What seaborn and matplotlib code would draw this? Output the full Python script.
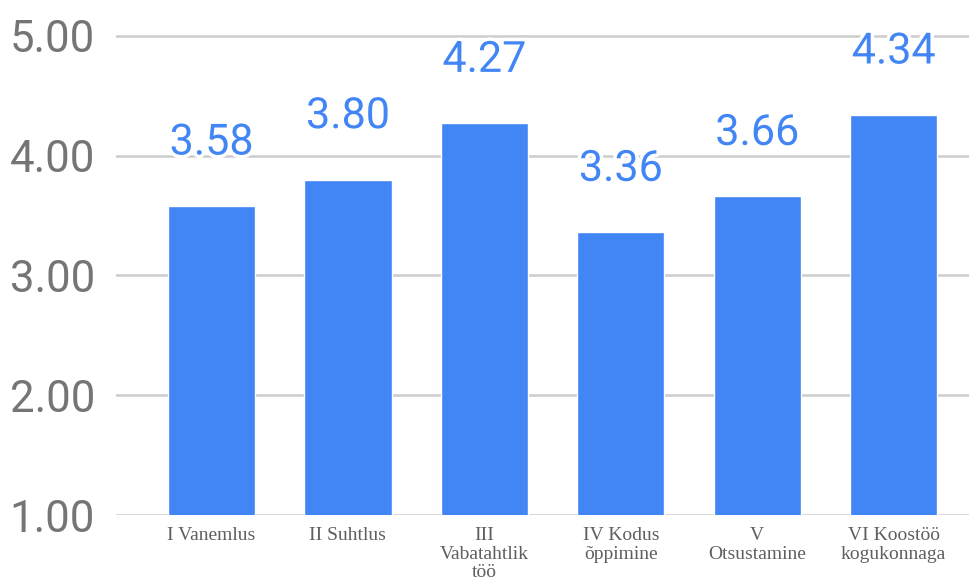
import matplotlib
matplotlib.use("Agg")
import matplotlib.pyplot as plt
import matplotlib.patheffects as pe
import seaborn as sns
import pandas as pd

categories = ["I Vanemlus", "II Suhtlus", "III\nVabatahtlik\ntöö", "IV Kodus\nõppimine",
              "V\nOtsustamine", "VI Koostöö\nkogukonnaga"]
scores = [3.58, 3.80, 4.27, 3.36, 3.66, 4.34]
y_ticks = [1.0, 2.0, 3.0, 4.0, 5.0]

BLUE = "#4285F4"
GRID = "#cccccc"
TICK_GREY = "#757575"

sns.set_theme(style="white")
plt.rcParams["font.family"] = ["Roboto", "DejaVu Sans"]

df = pd.DataFrame({"category": categories, "score": scores})

fig = plt.figure(figsize=(9.70, 5.87), dpi=100)
ax = fig.add_axes([116 / 970, 1 - 515 / 587, 1 - 116 / 970, (515 - 18) / 587])

sns.barplot(data=df, x="category", y="score", color=BLUE, saturation=1,
            width=0.64, ax=ax, zorder=3)

ax.set_ylim(1.0, 5.15)
ax.set_xlim(-0.70, 5.56)
ax.set_yticks(y_ticks)
ax.set_yticklabels([f"{v:.2f}" for v in y_ticks], fontsize=31.5, color=TICK_GREY)
ax.tick_params(axis="y", length=0, pad=15)
ax.tick_params(axis="x", length=0, pad=9)
for lbl in ax.get_xticklabels():
    lbl.set_fontfamily(["Liberation Serif", "DejaVu Serif"])
    lbl.set_fontsize(14)
    lbl.set_color("#5f5f5f")
    lbl.set_linespacing(1.08)

ax.set_xlabel("")
ax.set_ylabel("")
for side in ["top", "right", "left", "bottom"]:
    ax.spines[side].set_visible(False)
ax.yaxis.grid(True, color=GRID, linewidth=1.8, zorder=0)
ax.set_axisbelow(True)

# value labels floating above each bar, with a white halo over the gridlines
for i, v in enumerate(scores):
    ax.annotate(f"{v:.2f}", xy=(i, v), xytext=(0, 63), textcoords="offset pixels",
                ha="center", va="center", fontsize=31, color=BLUE, zorder=5,
                path_effects=[pe.withStroke(linewidth=5, foreground="white")])

fig.savefig("out.png", dpi=100, facecolor="white")
